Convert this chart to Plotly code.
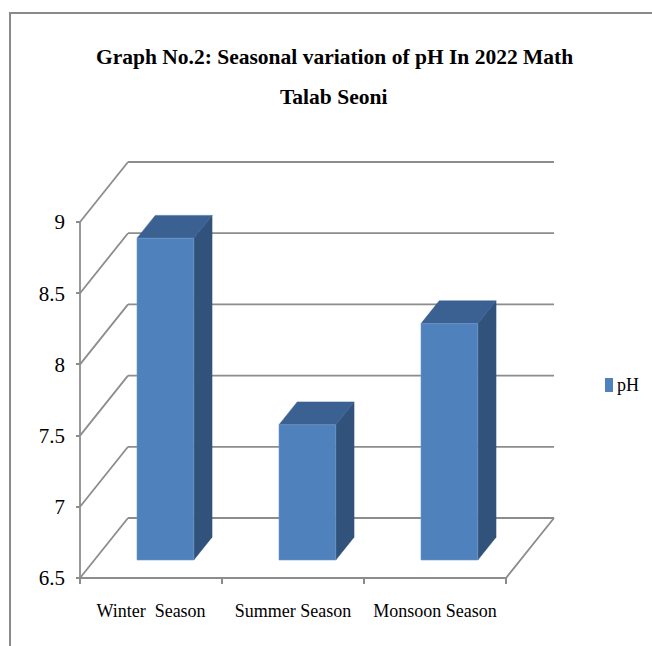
import plotly.graph_objects as go

# ---- data ----
categories = ["Winter\u00a0 Season", "Summer Season", "Monsoon Season"]
ph_values = [8.76, 7.45, 8.16]
y_ticks = [6.5, 7, 7.5, 8, 8.5, 9]
series_name = "pH"

SERIF = "Liberation Serif"

# ---- 3D projection helpers (data units) ----
BASE = y_ticks[0]
TOP = y_ticks[-1]
N = len(categories)
DX, DY = 0.338, 0.4213      # full depth offset of back wall
T0, T1 = 0.30, 0.68         # bar depth span (fraction of depth)
HW = 0.20                   # half width of bar

FRONT = "#4F81BD"
SIDE = "#31527B"
TOPC = "#3B6192"
GRID = "#8C8C8C"

fig = go.Figure()

# walls / gridlines
gx, gy = [], []
for v in y_ticks:
    gx += [DX, N + DX, None]
    gy += [v + DY, v + DY, None]
    gx += [0, DX, None]
    gy += [v, v + DY, None]
gx += [0, N, N + DX, None]
gy += [BASE, BASE, BASE + DY, None]
gx += [0, 0, None]
gy += [BASE, TOP, None]
fig.add_trace(go.Scatter(x=gx, y=gy, mode="lines",
                         line=dict(color=GRID, width=1.8),
                         hoverinfo="skip", showlegend=False))

# bars
for i, v in enumerate(ph_values):
    c = i + 0.5
    xl0, xr0 = c - HW + T0 * DX, c + HW + T0 * DX
    xl1, xr1 = c - HW + T1 * DX, c + HW + T1 * DX
    yb0, yt0 = BASE + T0 * DY, v + T0 * DY
    yb1, yt1 = BASE + T1 * DY, v + T1 * DY
    fig.add_trace(go.Scatter(x=[xr0, xr1, xr1, xr0, xr0], y=[yb0, yb1, yt1, yt0, yb0],
                             fill="toself", fillcolor=SIDE, mode="lines",
                             line=dict(color=SIDE, width=0.5),
                             hoverinfo="skip", showlegend=False))
    fig.add_trace(go.Scatter(x=[xl0, xr0, xr1, xl1, xl0], y=[yt0, yt0, yt1, yt1, yt0],
                             fill="toself", fillcolor=TOPC, mode="lines",
                             line=dict(color=TOPC, width=0.5),
                             hoverinfo="skip", showlegend=False))
    fig.add_trace(go.Scatter(x=[xl0, xr0, xr0, xl0, xl0], y=[yb0, yb0, yt0, yt0, yb0],
                             fill="toself", fillcolor=FRONT, mode="lines",
                             line=dict(color="#6F97C8", width=0.6),
                             name=series_name, text=[f"{categories[i]}: {v}"] * 5,
                             hoverinfo="text", showlegend=False))

# ---- layout ----
L, R, T, B = 76, 62, 140, 62
W, H = 652, 646
pw, ph = W - L - R, H - T - B
SX = 142.0
SY = 142.4
x0 = -4 / SX
x1 = x0 + pw / SX
y0 = BASE - 6 / SY
y1 = y0 + ph / SY

def px2paper_x(px):
    return (px - L) / pw

def px2paper_y(py):
    return (H - B - py) / ph

fig.update_layout(
    width=W, height=H,
    margin=dict(l=L, r=R, t=T, b=B),
    paper_bgcolor="white", plot_bgcolor="white",
    font=dict(family=SERIF, color="black"),
    showlegend=False,
    xaxis=dict(range=[x0, x1], showgrid=False, zeroline=False, showline=False,
               tickvals=[i + 0.5 for i in range(N)], ticktext=categories,
               ticks="", tickfont=dict(family=SERIF, size=18, color="black"),
               ticklabelstandoff=14,
               minor=dict(tickvals=list(range(N + 1)), ticks="inside", ticklen=6,
                          tickcolor=GRID, tickwidth=1.8, showgrid=False),
               fixedrange=True),
    yaxis=dict(range=[y0, y1], showgrid=False, zeroline=False, showline=False,
               tickmode="array", tickvals=y_ticks,
               ticktext=[f"{t:g}" for t in y_ticks],
               ticks="inside", ticklen=4, tickcolor=GRID, tickwidth=1.8,
               tickfont=dict(family=SERIF, size=21, color="black"),
               ticklabelstandoff=10,
               fixedrange=True),
    shapes=[
        dict(type="rect", xref="paper", yref="paper",
             x0=px2paper_x(10), x1=px2paper_x(700),
             y0=px2paper_y(700), y1=px2paper_y(13),
             line=dict(color="#8A8A8A", width=2), fillcolor="rgba(0,0,0,0)"),
        dict(type="rect", xref="paper", yref="paper",
             x0=px2paper_x(605), x1=px2paper_x(613),
             y0=px2paper_y(392), y1=px2paper_y(378),
             line=dict(width=0), fillcolor=FRONT),
    ],
    annotations=[
        dict(text="<b>Graph No.2: Seasonal variation of pH In 2022 Math</b>",
             xref="paper", yref="paper", x=px2paper_x(334), y=px2paper_y(57),
             xanchor="center", yanchor="middle", showarrow=False,
             font=dict(family=SERIF, size=21.5, color="black")),
        dict(text="<b>Talab Seoni</b>",
             xref="paper", yref="paper", x=px2paper_x(333), y=px2paper_y(97),
             xanchor="center", yanchor="middle", showarrow=False,
             font=dict(family=SERIF, size=21.5, color="black")),
        dict(text=series_name, xref="paper", yref="paper",
             x=px2paper_x(615), y=px2paper_y(385),
             xanchor="left", yanchor="middle", showarrow=False,
             font=dict(family=SERIF, size=18, color="black")),
    ],
)

fig.write_html("out.html")
